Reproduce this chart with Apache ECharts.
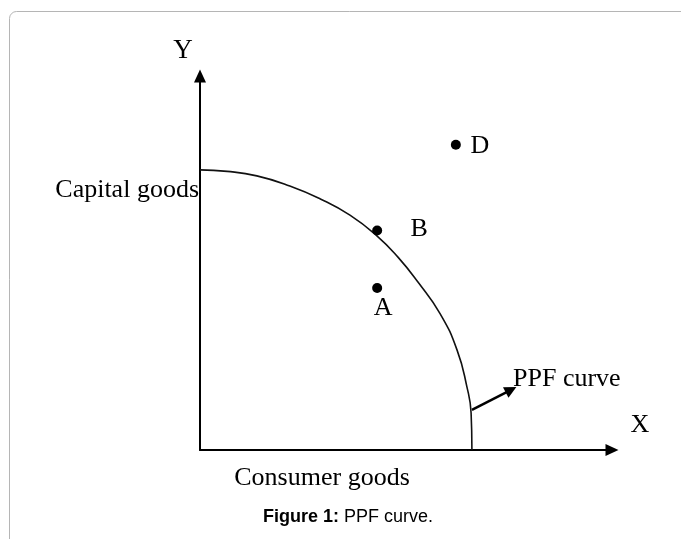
<!DOCTYPE html>
<html>
<head>
<meta charset="utf-8">
<script src="https://cdn.jsdelivr.net/npm/echarts@6/dist/echarts.min.js"></script>
<style>
html,body{margin:0;padding:0;background:#fff;}
#chart{width:681px;height:539px;}
</style>
</head>
<body>
<div id="chart"></div>
<script>
// ---- data ----
const curveX = [0, 0.66, 1.38, 2.18, 2.91, 3.64, 4.30, 4.81, 5.29, 5.83, 6.24, 6.48, 6.58, 6.60];
const curveY = [7.49, 7.45, 7.33, 7.06, 6.72, 6.28, 5.72, 5.15, 4.49, 3.64, 2.67, 1.68, 0.99, 0];
const pointNames = ['A', 'B', 'D'];
const pointX = [4.30, 4.30, 6.21];
const pointY = [4.33, 5.87, 8.16];
const pointerFrom = [6.60, 1.07];
const pointerTo = [7.55, 1.61];
const xAxisLetter = 'X';
const yAxisLetter = 'Y';
const xTitle = 'Consumer goods';
const yTitle = 'Capital goods';
const curveName = 'PPF curve';
const captionBold = 'Figure 1:';
const captionRest = ' PPF curve.';

// ---- styling ----
const SERIF = "'Liberation Serif','Times New Roman',serif";
const SANS = "'Liberation Sans',Arial,sans-serif";
const labelOffsets = { A: [6, 20], B: [42, -1], D: [24, 1] };

const chart = echarts.init(document.getElementById('chart'), null, { renderer: 'canvas' });

const axisCommon = {
  type: 'value', min: 0, max: 10,
  splitLine: { show: false }, axisTick: { show: false }, axisLabel: { show: false },
  axisLine: { show: true, symbol: ['none', 'triangle'], symbolSize: [12, 13],
    lineStyle: { color: '#000', width: 2 } }
};

const option = {
  backgroundColor: '#fff',
  animation: false,
  grid: { left: 200, top: 76, right: 69, bottom: 89 },
  xAxis: axisCommon,
  yAxis: axisCommon,
  graphic: [
    { type: 'rect', silent: true, z: -10,
      shape: { x: 9.5, y: 11.5, width: 720, height: 560, r: 7 },
      style: { fill: 'none', stroke: '#b5b5b5', lineWidth: 1 } },
    { type: 'text', x: 183, y: 51, style: { text: yAxisLetter, font: '27px ' + SERIF, fill: '#000', align: 'center', verticalAlign: 'middle' } },
    { type: 'text', x: 640, y: 425, style: { text: xAxisLetter, font: '26px ' + SERIF, fill: '#000', align: 'center', verticalAlign: 'middle' } },
    { type: 'text', x: 199, y: 190, style: { text: yTitle, font: '26px ' + SERIF, fill: '#000', align: 'right', verticalAlign: 'middle' } },
    { type: 'text', x: 322, y: 478, style: { text: xTitle, font: '26px ' + SERIF, fill: '#000', align: 'center', verticalAlign: 'middle' } },
    { type: 'text', x: 513, y: 379, style: { text: curveName, font: '26px ' + SERIF, fill: '#000', align: 'left', verticalAlign: 'middle' } },
    { type: 'text', x: 348, y: 517, style: {
        text: '{b|' + captionBold + '}' + captionRest,
        font: '18px ' + SANS, fill: '#000', align: 'center', verticalAlign: 'middle',
        rich: { b: { fontWeight: 'bold', fontSize: 18, fontFamily: SANS, fill: '#000' } } } }
  ],
  series: [
    {
      type: 'line', smooth: 0.5, symbol: 'none', silent: true,
      data: curveX.map((x, i) => [x, curveY[i]]),
      lineStyle: { color: '#111', width: 1.6 }
    },
    {
      type: 'scatter', symbol: 'circle', symbolSize: 10,
      itemStyle: { color: '#000', opacity: 1 },
      z: 3,
      data: pointNames.map((n, i) => ({
        name: n, value: [pointX[i], pointY[i]],
        label: { show: true, position: 'inside', formatter: n, offset: labelOffsets[n],
          fontFamily: SERIF, fontSize: 26, color: '#000', opacity: 1 }
      }))
    },
    {
      type: 'lines', coordinateSystem: 'cartesian2d', silent: true,
      symbol: ['none', 'triangle'], symbolSize: [9, 12],
      lineStyle: { color: '#000', width: 2.5, opacity: 1 },
      data: [{ coords: [pointerFrom, pointerTo] }]
    }
  ]
};
chart.setOption(option);
</script>
</body>
</html>
